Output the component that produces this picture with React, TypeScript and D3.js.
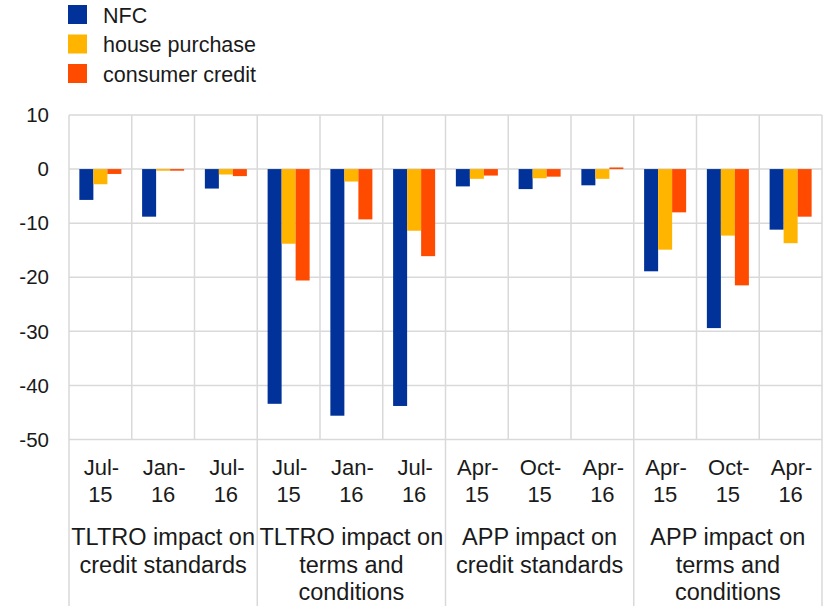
import React from "react";
import * as d3 from "d3";

const categories = ["Jul-|15", "Jan-|16", "Jul-|16", "Jul-|15", "Jan-|16", "Jul-|16", "Apr-|15", "Oct-|15", "Apr-|16", "Apr-|15", "Oct-|15", "Apr-|16"];
const groups = [
  ["TLTRO impact on", "credit standards"],
  ["TLTRO impact on", "terms and", "conditions"],
  ["APP impact on", "credit standards"],
  ["APP impact on", "terms and", "conditions"],
];
const seriesNames = ["NFC", "house purchase", "consumer credit"];
const nfc = [-5.7, -8.8, -3.6, -43.4, -45.6, -43.8, -3.2, -3.7, -3.0, -18.9, -29.4, -11.2];
const housePurchase = [-2.8, -0.3, -1.0, -13.8, -2.3, -11.4, -1.8, -1.7, -1.8, -14.9, -12.3, -13.7];
const consumerCredit = [-0.9, -0.3, -1.3, -20.6, -9.3, -16.1, -1.2, -1.4, 0.3, -8.0, -21.5, -8.8];
const yTicks = [10, 0, -10, -20, -30, -40, -50];
const colors = ["#003299", "#FFB400", "#FF4B00"];

const W = 827, H = 606;
const left = 69, right = 822, top = 115, bottom = 439.5;
const font = "'Liberation Sans', Arial, sans-serif";
const textColor = "#1a1a1a";
const gridColor = "#d9d9d9";

export default function App() {
  const series = [nfc, housePurchase, consumerCredit];
  const x = d3.scaleBand<number>().domain(d3.range(categories.length)).range([left, right]).padding(0);
  const xs = d3.scaleBand<number>().domain([0, 1, 2]).range([0, x.bandwidth()]).paddingInner(0).paddingOuter(0.74);
  const y = d3.scaleLinear().domain([-50, 10]).range([bottom, top]);
  const groupW = x.step() * 3;

  return (
    <svg width={W} height={H} style={{ position: "absolute", left: 0, top: 0, background: "#fff" }}>
      {/* legend */}
      {seriesNames.map((n, i) => (
        <g key={n}>
          <rect x={68} y={5 + i * 29.5} width={19} height={19} fill={colors[i]} />
          <text x={103} y={15 + i * 29.5} dy="0.35em" fontFamily={font} fontSize={21.5} fill={textColor}>{n}</text>
        </g>
      ))}
      {/* horizontal grid */}
      {yTicks.map((t) => (
        <g key={t}>
          <line x1={left} x2={right} y1={y(t)} y2={y(t)} stroke={gridColor} strokeWidth={1.5} />
          <text x={49} y={y(t)} dy="0.35em" textAnchor="end" fontFamily={font} fontSize={20.5} fill={textColor}>{t}</text>
        </g>
      ))}
      {/* vertical grid */}
      {d3.range(categories.length + 1).map((i) => {
        const xx = left + i * x.step();
        const isGroup = i % 3 === 0;
        return <line key={i} x1={xx} x2={xx} y1={top} y2={isGroup ? H : bottom} stroke={gridColor} strokeWidth={1.5} />;
      })}
      {/* bars */}
      {series.map((s, si) =>
        s.map((v, ci) => (
          <rect
            key={`${si}-${ci}`}
            x={(x(ci) as number) + (xs(si) as number)}
            y={y(Math.max(0, v))}
            width={xs.bandwidth()}
            height={Math.abs(y(v) - y(0))}
            fill={colors[si]}
          />
        ))
      )}
      {/* category labels */}
      {categories.map((c, i) => {
        const cx = (x(i) as number) + x.bandwidth() / 2;
        const [a, b] = c.split("|");
        return (
          <text key={i} textAnchor="middle" fontFamily={font} fontSize={22} fill={textColor}>
            <tspan x={cx + 1} y={467} dy="0.35em">{a}</tspan>
            <tspan x={cx} y={494} dy="0.35em">{b}</tspan>
          </text>
        );
      })}
      {/* group labels */}
      {groups.map((g, gi) => {
        const cx = left + gi * groupW + groupW / 2;
        return (
          <text key={gi} textAnchor="middle" fontFamily={font} fontSize={23.5} fill={textColor}>
            {g.map((line, li) => (
              <tspan key={li} x={cx} y={537 + li * 27.5} dy="0.35em">{line}</tspan>
            ))}
          </text>
        );
      })}
    </svg>
  );
}
